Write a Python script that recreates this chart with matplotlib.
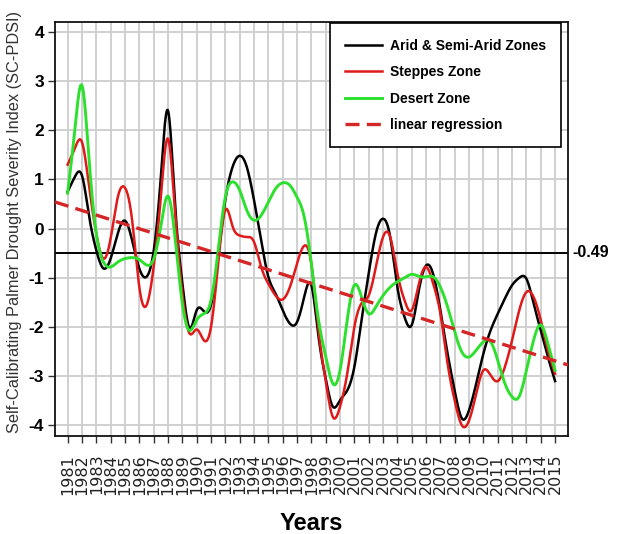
import numpy as np
import matplotlib
matplotlib.use('Agg')
import matplotlib.pyplot as plt
import matplotlib.transforms as mtransforms

# half-year readings of the smoothed SC-PDSI curves, 1981.0 .. 2015.0
t = np.arange(1981, 2015.01, 0.5)

arid = [0.75, 1.05, 1.08, 0.25, -0.44, -0.81, -0.61, -0.10, 0.16, -0.24,
        -0.81, -0.98, -0.46, 1.05, 2.40, 0.45, -1.10, -2.02, -1.66, -1.68,
        -1.55, -0.58, 0.58, 1.25, 1.48, 1.25, 0.58, -0.24, -0.98, -1.32,
        -1.66, -1.93, -1.90, -1.39, -1.15, -2.20, -3.05, -3.62, -3.49, -3.29,
        -2.81, -1.86, -0.91, -0.10, 0.20, -0.17, -1.19, -1.80, -1.96, -1.25,
        -0.75, -0.93, -1.66, -2.54, -3.30, -3.86, -3.69, -3.15, -2.54, -2.07,
        -1.73, -1.42, -1.15, -1.00, -1.02, -1.52, -2.07, -2.61, -3.10]

steppes = [1.30, 1.63, 1.76, 0.85, -0.10, -0.61, -0.20, 0.64, 0.83, 0.17,
           -1.19, -1.56, -0.78, 0.64, 1.83, 0.30, -1.32, -2.13, -2.05, -2.27,
           -2.00, -0.71, 0.38, 0.05, -0.14, -0.17, -0.27, -0.78, -1.12, -1.36,
           -1.44, -1.19, -0.71, -0.35, -0.72, -2.07, -3.10, -3.83, -3.62, -2.95,
           -2.00, -1.52, -1.36, -0.78, -0.17, -0.17, -0.91, -1.46, -1.66, -1.12,
           -0.78, -1.12, -1.73, -2.74, -3.50, -4.00, -3.90, -3.35, -2.88, -2.98,
           -3.10, -2.81, -2.27, -1.66, -1.29, -1.39, -1.86, -2.47, -2.95]

desert = [0.72, 2.00, 2.91, 1.39, -0.10, -0.68, -0.78, -0.68, -0.61, -0.59,
          -0.63, -0.74, -0.62, 0.05, 0.66, -0.20, -1.52, -2.07, -1.86, -1.73,
          -1.46, -0.44, 0.64, 0.95, 0.78, 0.37, 0.17, 0.27, 0.54, 0.81,
          0.93, 0.88, 0.64, 0.24, -0.71, -1.86, -2.60, -3.15, -2.88, -1.86,
          -1.15, -1.39, -1.73, -1.59, -1.36, -1.19, -1.08, -1.00, -0.93, -0.97,
          -0.98, -0.98, -1.19, -1.59, -2.10, -2.51, -2.61, -2.47, -2.30, -2.30,
          -2.68, -3.15, -3.42, -3.41, -2.88, -2.27, -1.96, -2.34, -2.88]

years = list(range(1981, 2016))
mean_value = -0.49
reg_start = (1981, 0.46)
reg_slope = -0.0926


def smooth(x, y, xs):
    # natural cubic spline through the read points
    x = np.asarray(x, float)
    y = np.asarray(y, float)
    n = len(x)
    h = np.diff(x)
    A = np.zeros((n, n))
    b = np.zeros(n)
    A[0, 0] = A[-1, -1] = 1
    for i in range(1, n - 1):
        A[i, i - 1] = h[i - 1]
        A[i, i] = 2 * (h[i - 1] + h[i])
        A[i, i + 1] = h[i]
        b[i] = 3 * ((y[i + 1] - y[i]) / h[i] - (y[i] - y[i - 1]) / h[i - 1])
    c = np.linalg.solve(A, b)
    bb = (y[1:] - y[:-1]) / h - h * (2 * c[:-1] + c[1:]) / 3
    d = (c[1:] - c[:-1]) / (3 * h)
    idx = np.clip(np.searchsorted(x, xs) - 1, 0, n - 2)
    dx = xs - x[idx]
    return y[idx] + bb[idx] * dx + c[idx] * dx**2 + d[idx] * dx**3


narrow = ['Liberation Sans Narrow', 'Liberation Sans', 'DejaVu Sans']

fig = plt.figure(figsize=(6.17, 5.34), dpi=100)
ax = fig.add_axes([55 / 617, 1 - 435.7 / 534, 513 / 617, 413.7 / 534])

xs = np.linspace(1981, 2015, 1200)
ax.axhline(mean_value, color='black', lw=1.4, zorder=2)
ax.plot(xs, smooth(t, arid, xs), color='black', lw=1.8, zorder=3,
        label='Arid & Semi-Arid Zones')
ax.plot(xs, smooth(t, steppes, xs), color='#e01a1a', lw=1.8, zorder=4,
        label='Steppes Zone')
ax.plot(xs, smooth(t, desert, xs), color='#2ee02e', lw=2.1, zorder=5,
        label='Desert Zone')
ax.axline(reg_start, slope=reg_slope, color='#d42626', lw=2.4,
          dashes=(4.2, 2.2), zorder=6, label='linear regression')

ax.set_xlim(1980.12, 2015.9)
ax.set_ylim(-4.21, 4.2)
ax.set_xticks(years)
ax.set_xticklabels([str(y) for y in years], rotation=90, fontsize=11.5,
                   color='#222222')
ax.set_yticks(range(-4, 5))
ax.set_yticklabels([str(v) for v in range(-4, 5)], family=narrow,
                   fontweight='bold', fontsize=12.5)
ax.tick_params(axis='both', direction='out', length=5, width=1, color='#333333')
ax.tick_params(axis='x', pad=8)
ax.tick_params(axis='y', pad=3)
ax.grid(True, color='#cdcdcd', lw=1.3, zorder=0)
ax.set_axisbelow(True)
for s in ax.spines.values():
    s.set_linewidth(1.3)
    s.set_color('#111111')

trans = mtransforms.blended_transform_factory(ax.transAxes, ax.transData)
ax.text(1.008, mean_value, '-0.49', transform=trans, ha='left', va='center',
        family=narrow, fontweight='bold', fontsize=11.5)

ax.set_ylabel('Self-Calibrating Palmer Drought Severity Index (SC-PDSI)',
              family=['Liberation Sans', 'DejaVu Sans'], fontsize=11.8,
              color='#333333')
ax.yaxis.set_label_coords(-0.064, 0.517)
ax.set_xlabel('Years', family=narrow, fontweight='bold', fontsize=17)
ax.xaxis.set_label_coords(0.499, -0.185)

leg = ax.legend(loc='upper right', bbox_to_anchor=(0.987, 0.997),
                borderaxespad=0, fancybox=False, framealpha=1,
                edgecolor='black', handlelength=2.6, handleheight=0.7,
                handletextpad=0.6, labelspacing=0.9, borderpad=1.1,
                prop={'family': narrow, 'weight': 'bold', 'size': 10})
leg.get_frame().set_linewidth(1.2)

fig.savefig('out.png', dpi=100)
